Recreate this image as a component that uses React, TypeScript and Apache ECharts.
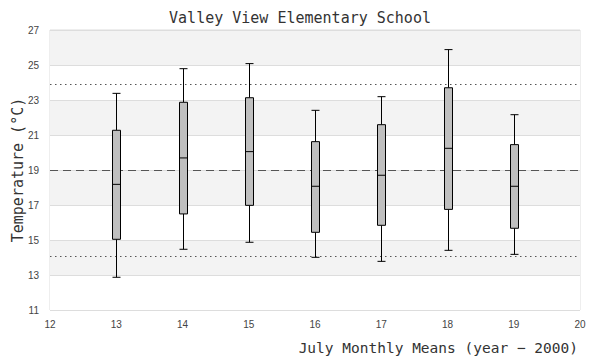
import React, { useEffect, useRef } from "react";
import * as echarts from "echarts";

const years = [13, 14, 15, 16, 17, 18, 19];
const mins = [12.87, 14.47, 14.87, 14.01, 13.78, 14.41, 14.18];
const q1s = [15.04, 16.49, 16.98, 15.44, 15.84, 16.75, 15.67];
const medians = [18.18, 19.69, 20.05, 18.07, 18.7, 20.24, 18.07];
const q3s = [21.27, 22.87, 23.13, 20.62, 21.59, 23.7, 20.45];
const maxs = [23.38, 24.79, 25.08, 22.41, 23.19, 25.88, 22.16];
const meanLine = 18.98;
const upperLine = 23.9;
const lowerLine = 14.07;

export default function App() {
  const ref = useRef<HTMLDivElement>(null);
  useEffect(() => {
    if (!ref.current) return;
    const chart = echarts.init(ref.current, undefined, { renderer: "svg" });
    const data = years.map((y, i) => [y, mins[i], q1s[i], medians[i], q3s[i], maxs[i]]);
    const mono = "DejaVu Sans Mono";
    chart.setOption({
      animation: false,
      title: {
        text: "Valley View Elementary School",
        left: "center",
        top: 5,
        textStyle: { fontFamily: mono, fontSize: 15, fontWeight: "normal", color: "#333" },
      },
      grid: { left: 50, right: 20, top: 30, bottom: 50, outerBoundsMode: "none", containLabel: false, show: true, borderColor: "#ddd", borderWidth: 1, backgroundColor: "transparent" },
      xAxis: {
        type: "value",
        min: 12,
        max: 20,
        interval: 1,
        name: "July Monthly Means (year \u2212 2000)",
        nameLocation: "end",
        nameGap: -2,
        nameMoveOverlap: false,
        nameTextStyle: { fontFamily: mono, fontSize: 14.5, color: "#333", align: "right", verticalAlign: "top", padding: [30, 0, 0, 0] },
        axisLine: { show: false },
        axisTick: { show: false },
        splitLine: { show: false },
        axisLabel: { fontFamily: "Liberation Sans", fontSize: 10, color: "#444", margin: 9 },
      },
      yAxis: {
        type: "value",
        min: 11,
        max: 27,
        interval: 2,
        name: "Temperature (\u00b0C)",
        nameLocation: "middle",
        nameGap: 25,
        nameMoveOverlap: false,
        nameRotate: 90,
        nameTextStyle: { fontFamily: mono, fontSize: 15, color: "#333" },
        axisLine: { show: false },
        axisTick: { show: false },
        splitLine: { show: true, lineStyle: { color: "#ddd", width: 1 } },
        splitArea: { show: true, areaStyle: { color: ["#ffffff", "#f3f3f3"] } },
        axisLabel: { fontFamily: "Liberation Sans", fontSize: 10, color: "#444", margin: 11 },
      },
      series: [
        {
          type: "custom",
          data,
          renderItem: (params: any, api: any) => {
            const x = api.value(0);
            const pMin = api.coord([x, api.value(1)]);
            const pQ1 = api.coord([x, api.value(2)]);
            const pMed = api.coord([x, api.value(3)]);
            const pQ3 = api.coord([x, api.value(4)]);
            const pMax = api.coord([x, api.value(5)]);
            const cx = Math.round(pMed[0]) + 0.5;
            const hw = 4;
            const ls = { stroke: "#000", lineWidth: 1 };
            return {
              type: "group",
              children: [
                { type: "line", shape: { x1: cx, y1: pMax[1], x2: cx, y2: pQ3[1] }, style: ls },
                { type: "line", shape: { x1: cx, y1: pQ1[1], x2: cx, y2: pMin[1] }, style: ls },
                { type: "line", shape: { x1: cx - hw, y1: pMax[1], x2: cx + hw, y2: pMax[1] }, style: ls },
                { type: "line", shape: { x1: cx - hw, y1: pMin[1], x2: cx + hw, y2: pMin[1] }, style: ls },
                { type: "rect", shape: { x: cx - hw, y: pQ3[1], width: hw * 2, height: pQ1[1] - pQ3[1] }, style: { fill: "#bfbfbf", stroke: "#000", lineWidth: 1 } },
                { type: "line", shape: { x1: cx - hw, y1: pMed[1], x2: cx + hw, y2: pMed[1] }, style: ls },
              ],
            };
          },
          z: 3,
          markLine: {
            silent: true,
            symbol: "none",
            label: { show: false },
            z: 2,
            data: [
              { yAxis: meanLine, lineStyle: { type: [8, 5], color: "#555", width: 1 } },
              { yAxis: upperLine, lineStyle: { type: [1.5, 3.5], color: "#555", width: 1 } },
              { yAxis: lowerLine, lineStyle: { type: [1.5, 3.5], color: "#555", width: 1 } },
            ],
          },
        },
      ],
    });
    return () => chart.dispose();
  }, []);
  return <div ref={ref} style={{ position: "absolute", left: 0, top: 0, width: 600, height: 360 }} />;
}
